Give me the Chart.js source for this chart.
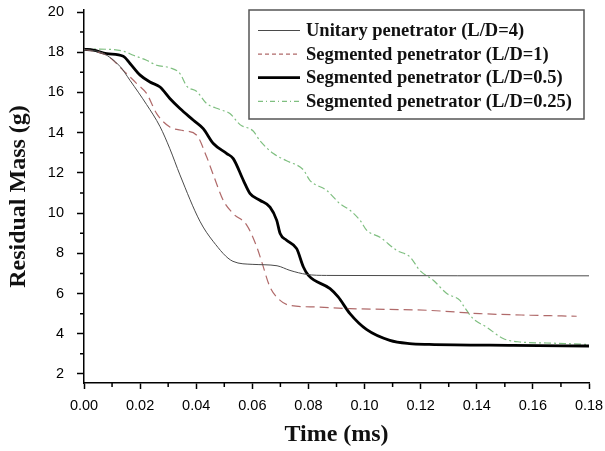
<!DOCTYPE html>
<html>
<head>
<meta charset="utf-8">
<script src="https://cdn.jsdelivr.net/npm/chart.js@4"></script>
<style>
  html, body { margin: 0; padding: 0; background: #fff; }
  #wrap { width: 605px; height: 451px; }
</style>
</head>
<body>
<div id="wrap"><canvas id="massChart" width="605" height="451"></canvas></div>
<script>
// Values (time in ms, mass in g)
const unitaryTime = [0, 0.0068, 0.0128, 0.0164, 0.0223, 0.0271, 0.0306, 0.0342, 0.0413, 0.046, 0.0531, 0.0602, 0.0688, 0.0734, 0.0794, 0.0865, 0.18];
const unitaryMass = [18.15, 17.95, 17.3, 16.6, 15.4, 14.3, 13.2, 11.9, 9.6, 8.6, 7.6, 7.45, 7.38, 7.15, 6.95, 6.9, 6.88];

const seg1Time = [0, 0.0081, 0.014, 0.0188, 0.0223, 0.0259, 0.0306, 0.0354, 0.0402, 0.0437, 0.0461, 0.0496, 0.0532, 0.058, 0.0616, 0.0633, 0.0663, 0.0699, 0.0734, 0.0829, 0.0948, 0.1233, 0.1411, 0.159, 0.1756];
const seg1Mass = [18.15, 17.85, 17.1, 16.44, 15.95, 14.95, 14.28, 14.1, 13.87, 12.8, 11.9, 10.64, 9.97, 9.4, 8.31, 7.6, 6.32, 5.66, 5.41, 5.33, 5.25, 5.16, 5.0, 4.92, 4.87];

const seg05Time = [0, 0.0033, 0.0081, 0.014, 0.0164, 0.02, 0.0235, 0.0271, 0.0306, 0.0342, 0.039, 0.0425, 0.0461, 0.0509, 0.0532, 0.0568, 0.0592, 0.0627, 0.0663, 0.0687, 0.0699, 0.0722, 0.0758, 0.0782, 0.08, 0.0877, 0.0906, 0.0948, 0.1008, 0.109, 0.116, 0.123, 0.153, 0.18];
const seg05Mass = [18.15, 18.1, 17.93, 17.8, 17.44, 16.86, 16.52, 16.27, 15.7, 15.2, 14.62, 14.2, 13.46, 12.96, 12.71, 11.63, 10.97, 10.64, 10.3, 9.64, 8.98, 8.65, 8.23, 7.32, 6.9, 6.24, 5.83, 5.0, 4.2, 3.67, 3.51, 3.47, 3.42, 3.39];

const seg025Time = [0, 0.0057, 0.014, 0.0176, 0.0223, 0.0259, 0.0306, 0.0342, 0.0367, 0.0402, 0.0437, 0.0485, 0.052, 0.0556, 0.0603, 0.0627, 0.0675, 0.0722, 0.0782, 0.0805, 0.0865, 0.0912, 0.0948, 0.0984, 0.1008, 0.1055, 0.1114, 0.1162, 0.1197, 0.1245, 0.1293, 0.134, 0.1352, 0.1387, 0.1435, 0.1494, 0.1554, 0.1649, 0.18];
const seg025Mass = [18.15, 18.15, 18.05, 17.85, 17.6, 17.35, 17.23, 16.94, 16.3, 16.05, 15.45, 15.15, 14.95, 14.4, 14.08, 13.6, 12.96, 12.6, 12.15, 11.63, 11.13, 10.47, 10.14, 9.64, 9.14, 8.8, 8.15, 7.82, 7.15, 6.66, 6.0, 5.66, 5.4, 4.75, 4.33, 3.76, 3.59, 3.54, 3.47];

const seriesLabels = [
  'Unitary penetrator (L/D=4)',
  'Segmented penetrator (L/D=1)',
  'Segmented penetrator (L/D=0.5)',
  'Segmented penetrator (L/D=0.25)'
];

// Axis ticks
const xTicks = [0, 0.02, 0.04, 0.06, 0.08, 0.10, 0.12, 0.14, 0.16, 0.18];
const xMinorTicks = [0.01, 0.03, 0.05, 0.07, 0.09, 0.11, 0.13, 0.15, 0.17];
const yTicks = [2, 4, 6, 8, 10, 12, 14, 16, 18, 20];
const yMinorTicks = [3, 5, 7, 9, 11, 13, 15, 17, 19];

const toPoints = (ts, ms) => ts.map((t, i) => ({ x: t, y: ms[i] }));

// Legend with a framed box, drawn inside the plot area
const boxLegend = {
  id: 'boxLegend',
  afterDraw(chart) {
    const ctx = chart.ctx;
    const left = 249, top = 10, right = 584, bottom = 119;
    ctx.save();
    ctx.fillStyle = '#fff';
    ctx.fillRect(left, top, right - left, bottom - top);
    ctx.strokeStyle = '#555';
    ctx.lineWidth = 1.5;
    ctx.strokeRect(left, top, right - left, bottom - top);
    ctx.font = 'bold 18.5px "Liberation Serif", serif';
    ctx.textBaseline = 'middle';
    const dashes = [[], [4, 3], [], [5, 3, 1, 3]];
    chart.data.datasets.forEach((ds, i) => {
      const y = 30.5 + i * 23.6;
      ctx.beginPath();
      ctx.setLineDash(dashes[i]);
      ctx.strokeStyle = ds.borderColor;
      ctx.lineWidth = ds.borderWidth;
      ctx.moveTo(258, y);
      ctx.lineTo(300, y);
      ctx.stroke();
      ctx.setLineDash([]);
      ctx.fillStyle = '#111';
      ctx.fillText(ds.label, 306, y + 1);
    });
    ctx.restore();
  }
};

// Short minor ticks between the labelled ones
const minorTicks = {
  id: 'minorTicks',
  afterDraw(chart) {
    const ctx = chart.ctx;
    const xs = chart.scales.x, ys = chart.scales.y;
    ctx.save();
    ctx.strokeStyle = '#000';
    ctx.lineWidth = 1.5;
    ctx.beginPath();
    xMinorTicks.forEach(v => {
      const px = xs.getPixelForValue(v);
      ctx.moveTo(px, xs.top);
      ctx.lineTo(px, xs.top + 4);
    });
    yMinorTicks.forEach(v => {
      const py = ys.getPixelForValue(v);
      ctx.moveTo(ys.right, py);
      ctx.lineTo(ys.right - 4, py);
    });
    ctx.stroke();
    ctx.restore();
  }
};

const ctx = document.getElementById('massChart').getContext('2d');

const massChart = new Chart(ctx, {
  type: 'line',
  data: {
    datasets: [
      {
        label: seriesLabels[0],
        data: toPoints(unitaryTime, unitaryMass),
        borderColor: '#4a4a4a',
        borderWidth: 1
      },
      {
        label: seriesLabels[1],
        data: toPoints(seg1Time, seg1Mass),
        borderColor: '#b06a6a',
        borderWidth: 1.2,
        borderDash: [9, 5]
      },
      {
        label: seriesLabels[2],
        data: toPoints(seg05Time, seg05Mass),
        borderColor: '#000',
        borderWidth: 2.8
      },
      {
        label: seriesLabels[3],
        data: toPoints(seg025Time, seg025Mass),
        borderColor: '#7fbf80',
        borderWidth: 1.2,
        borderDash: [7, 3, 2, 3]
      }
    ]
  },
  options: {
    responsive: false,
    animation: false,
    devicePixelRatio: 1,
    cubicInterpolationMode: 'monotone',
    elements: { point: { radius: 0 } },
    layout: { padding: { top: 10, right: 16, left: 0, bottom: 0 } },
    plugins: {
      legend: { display: false },
      tooltip: { enabled: false }
    },
    scales: {
      x: {
        type: 'linear',
        min: 0,
        max: 0.18,
        afterBuildTicks: axis => { axis.ticks = xTicks.map(v => ({ value: v })); },
        afterFit: axis => { axis.height = 68; axis.paddingLeft = 0; axis.paddingRight = 0; },
        grid: { display: true, drawOnChartArea: false, drawTicks: true, tickLength: 6, tickWidth: 1.5, tickColor: '#000' },
        border: { display: true, color: '#000', width: 1.5 },
        ticks: {
          padding: 8,
          color: '#000',
          font: { family: '"Liberation Sans", Arial, sans-serif', size: 14.5 },
          maxRotation: 0,
          callback: v => v.toFixed(2)
        },
        title: {
          display: true,
          text: 'Time (ms)',
          color: '#111',
          font: { family: '"Liberation Serif", serif', size: 24, weight: 'bold' },
          padding: { top: 0, bottom: 2 }
        }
      },
      y: {
        type: 'linear',
        min: 1.55,
        max: 20.1,
        afterBuildTicks: axis => { axis.ticks = yTicks.map(v => ({ value: v })); },
        afterFit: axis => { axis.width = 84; axis.paddingTop = 0; axis.paddingBottom = 0; },
        grid: { display: true, drawOnChartArea: false, drawTicks: true, tickLength: 7, tickWidth: 1.5, tickColor: '#000' },
        border: { display: true, color: '#000', width: 1.5 },
        ticks: {
          padding: 13,
          color: '#000',
          font: { family: '"Liberation Sans", Arial, sans-serif', size: 14.5 }
        },
        title: {
          display: true,
          text: 'Residual Mass (g)',
          color: '#111',
          font: { family: '"Liberation Serif", serif', size: 24, weight: 'bold' },
          padding: { top: 4, bottom: 0 }
        }
      }
    }
  },
  plugins: [minorTicks, boxLegend]
});
</script>
</body>
</html>
